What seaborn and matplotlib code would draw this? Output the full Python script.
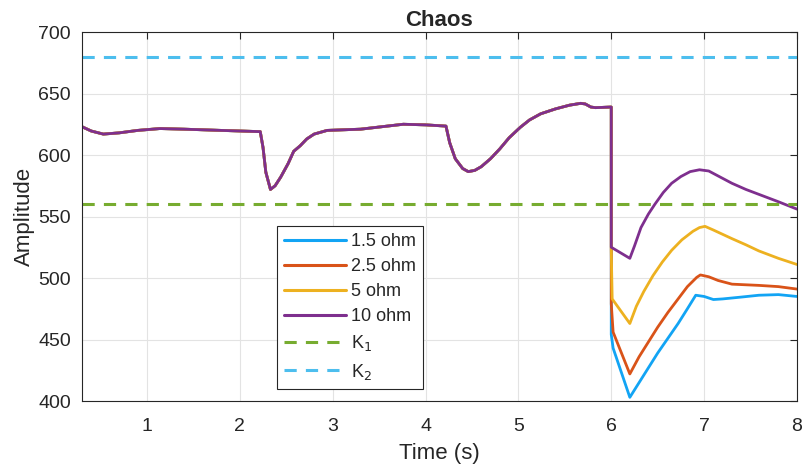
import numpy as np
import pandas as pd
import matplotlib
matplotlib.use("Agg")
import matplotlib.pyplot as plt
import seaborn as sns
from matplotlib.lines import Line2D

# =======================
# Data
# =======================
# shared part before t = 6 s (all loads overlap)
pre_t = [0.3, 0.4, 0.53, 0.7, 0.9, 1.14, 1.4, 1.8, 2.22, 2.25, 2.28, 2.33,
         2.38, 2.44, 2.52, 2.58, 2.65, 2.72, 2.8, 2.94, 3.3, 3.76, 4.0, 4.22,
         4.26, 4.32, 4.4, 4.46, 4.53, 4.6, 4.7, 4.8, 4.9, 5.02, 5.12, 5.24,
         5.4, 5.55, 5.67, 5.72, 5.78, 5.83, 6.0]
pre_amp = [623, 619.5, 617, 618, 620, 621.5, 621, 620, 619, 606, 586, 572,
           575, 582, 593, 603, 607.5, 613, 617, 620, 621, 625, 624.5, 623.5,
           610, 597, 589, 586.5, 587.5, 590.5, 597, 605, 614, 622.5, 628.5, 633.5,
           637.5, 640.5, 642, 641.5, 639, 638.5, 639]

# after t = 6 s, per load
t_15 = [6.0, 6.02, 6.2, 6.3, 6.4, 6.5, 6.61, 6.72, 6.82, 6.91, 7.0, 7.1,
        7.2, 7.4, 7.59, 7.8, 8.0]
a_15 = [454, 443, 403, 415, 427, 439, 451, 463, 475, 486, 485, 482.5,
        483, 484.5, 486, 486.5, 485]

t_25 = [6.0, 6.02, 6.2, 6.3, 6.4, 6.5, 6.61, 6.72, 6.82, 6.92, 6.96, 7.05,
        7.15, 7.3, 7.59, 7.8, 8.0]
a_25 = [479, 456, 422, 436, 448, 460, 472, 483, 493, 500.5, 502.5, 501,
        498, 495, 494, 493, 491]

t_5 = [6.0, 6.01, 6.2, 6.27, 6.35, 6.45, 6.55, 6.65, 6.76, 6.88, 6.95, 7.01,
       7.1, 7.3, 7.45, 7.59, 7.8, 8.0]
a_5 = [522, 483, 463, 477, 489, 502, 513, 522.5, 531, 538, 541, 542,
       539, 532, 527, 522, 516, 511]

t_10 = [6.0, 6.2, 6.25, 6.32, 6.4, 6.47, 6.56, 6.65, 6.75, 6.85, 6.95, 7.05,
        7.15, 7.3, 7.45, 7.59, 7.8, 8.0]
a_10 = [525, 516, 526, 541, 552, 560, 569.5, 577, 582.5, 586.5, 588, 587,
        583, 577, 572, 568, 562, 556]

labels = ["1.5 ohm", "2.5 ohm", "5 ohm", "10 ohm"]
colors = ["#12A4F4", "#D95319", "#EDB120", "#7E2F8E"]
K1, K2 = 560, 680

# build long-form table
rows = []
for lab, tt, aa in zip(labels, [t_15, t_25, t_5, t_10], [a_15, a_25, a_5, a_10]):
    for t, a in zip(pre_t + tt, pre_amp + aa):
        rows.append((lab, t, a))
df = pd.DataFrame(rows, columns=["load", "time", "amp"])

# =======================
# Plot
# =======================
sns.set_style("white")
plt.rcParams['font.family'] = ['Liberation Sans', 'DejaVu Sans']

fig = plt.figure(figsize=(8.06, 4.72), dpi=100)
ax = fig.add_axes([0.1017, 0.1504, 0.8871, 0.7818])

for lab, col in zip(labels, colors):
    sns.lineplot(data=df[df["load"] == lab], x="time", y="amp", color=col,
                 lw=2, estimator=None, sort=False, legend=False, ax=ax)

ax.axhline(K1, color="#77AC30", lw=2.2, ls=(0, (4, 3)))
ax.axhline(K2, color="#4DBEEE", lw=2.2, ls=(0, (4, 3)))

ax.set_xlim(0.3, 8)
ax.set_ylim(400, 700)
ax.set_xticks(range(1, 9))
ax.set_yticks(range(400, 701, 50))
ax.grid(True, color="#e3e3e3", lw=0.8)
ax.tick_params(direction="in", top=True, right=True, length=5,
               labelsize=14, colors="#262626")
ax.tick_params(axis="x", pad=12)
ax.tick_params(axis="y", pad=8)
for s in ax.spines.values():
    s.set_color("#262626")
    s.set_linewidth(0.8)

ax.set_title("Chaos", fontsize=16, fontweight="bold", pad=4)
ax.set_xlabel("Time (s)", fontsize=16, color="#262626", labelpad=6)
ax.set_ylabel("Amplitude", fontsize=16, color="#262626", labelpad=2)

handles = [Line2D([], [], color=c, lw=2.2) for c in colors]
handles += [Line2D([], [], color="#77AC30", lw=2.2, ls=(0, (4, 3))),
            Line2D([], [], color="#4DBEEE", lw=2.2, ls=(0, (4, 3)))]
leg = ax.legend(handles, labels + ["K$_1$", "K$_2$"], loc="upper left",
                bbox_to_anchor=(0.2727, 0.475), borderaxespad=0, fontsize=13,
                handlelength=3.4, handletextpad=0.3, borderpad=0.4,
                frameon=True, fancybox=False, framealpha=1,
                labelspacing=0.45)
leg.get_frame().set_edgecolor("#262626")
leg.get_frame().set_linewidth(0.8)

fig.savefig("out.png", dpi=100)
